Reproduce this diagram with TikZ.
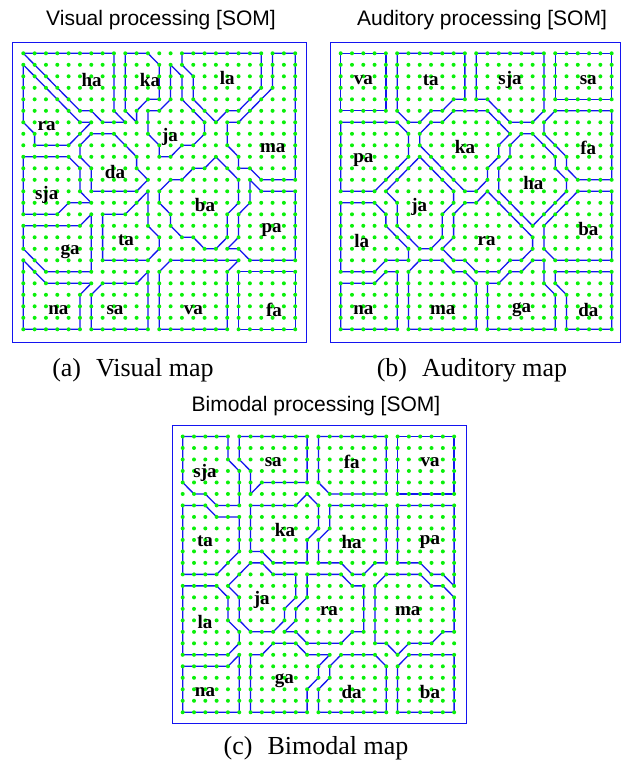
\documentclass[tikz,border=0pt]{standalone}
\usepackage{fontspec}
\setmainfont{Liberation Serif}
\newfontfamily\arialf{Liberation Sans}
\definecolor{dotg}{RGB}{10,240,10}
\definecolor{lineb}{RGB}{20,20,240}
\begin{document}
\begin{tikzpicture}[x=1pt,y=-1pt,
  bl/.style={lineb,line width=1.3pt,line join=miter},
  frm/.style={lineb,line width=1pt},
  lab/.style={font=\fontsize{19}{19}\selectfont\bfseries,inner sep=0pt},
  ttl/.style={font=\arialf\fontsize{21}{21}\selectfont,inner sep=0pt,anchor=base},
  capt/.style={font=\fontsize{26}{26}\selectfont,inner sep=0pt,anchor=base}]
\useasboundingbox (0,0) rectangle (621,764);
\fill[white] (0,0) rectangle (621,764);
% frames
\draw[frm] (12.7,42.7) rectangle (306,342);
\draw[frm] (330,42.7) rectangle (620,342.3);
\draw[frm] (172,425) rectangle (466,723.3);
% titles and captions
\node[ttl] (ta) at (161,25) {Visual processing [SOM]};
\node[ttl] (tb) at (482,25) {Auditory processing [SOM]};
\node[ttl] (tc) at (316,411) {Bimodal processing [SOM]};
\node[capt] (ca) at (133,376) {(a)\hspace{15pt}Visual map};
\node[capt] (cb) at (472,376) {(b)\hspace{15pt}Auditory map};
\node[capt] (cc) at (316,754) {(c)\hspace{15pt}Bimodal map};
% ---------- map (a)
\begin{scope}[xshift=23.3pt,yshift=-53.3pt,x=11.33pt,y=-11.5pt]
\draw[bl] (0,0)--(8,0)--(8,5)--(9,6)--(7,6)--(6,5)--(5,5)--cycle;
\draw[bl] (9,0)--(11,0)--(12,1)--(12,4)--(11,4)--(10,5)--(10,6)--(9,5)--cycle;
\draw[bl] (14,0)--(21,0)--(21,3)--(19,5)--(18,5)--(17,6)--(15,4)--(15,2)--(14,1)--cycle;
\draw[bl] (22,0)--(24,0)--(24,11)--(21,11)--(20,10)--(19,10)--(19,9)--(18,8)--(18,6)--(19,6)--(22,3)--cycle;
\draw[bl] (0,1)--(5,6)--(6,6)--(4,8)--(1,8)--(1,7)--(0,6)--cycle;
\draw[bl] (13,1)--(14,2)--(14,4)--(16,6)--(16,7)--(15,8)--(14,8)--(13,9)--(12,9)--(12,8)--(11,7)--(11,5)--(12,5)--(13,4)--cycle;
\draw[bl] (6,7)--(8,7)--(10,9)--(10,10)--(11,11)--(10,12)--(6,12)--(6,10)--(5,9)--(5,8)--cycle;
\draw[bl] (0,9)--(4,9)--(5,10)--(5,12)--(6,13)--(4,13)--(3,14)--(0,14)--cycle;
\draw[bl] (17,9)--(19,11)--(19,13)--(18,14)--(18,16)--(17,17)--(16,17)--(15,16)--(14,16)--(13,15)--(13,14)--(12,13)--(12,12)--(13,11)--(14,11)--(15,10)--(16,10)--cycle;
\draw[bl] (20,11)--(21,12)--(24,12)--(24,18)--(20,18)--(19,17)--(18,17)--(19,16)--(19,14)--(20,13)--cycle;
\draw[bl] (7,14)--(9,14)--(11,12)--(11,15)--(12,16)--(12,17)--(11,18)--(7,18)--cycle;
\draw[bl] (0,15)--(5,15)--(6,14)--(6,19)--(2,19)--(0,17)--cycle;
\draw[bl] (0,18)--(2,20)--(6,20)--(5,21)--(5,24)--(0,24)--cycle;
\draw[bl] (6,21)--(7,20)--(10,20)--(11,19)--(11,24)--(6,24)--cycle;
\draw[bl] (13,18)--(19,18)--(18,19)--(18,24)--(12,24)--(12,19)--cycle;
\draw[bl] (19,19)--(24,19)--(24,24)--(19,24)--cycle;
\foreach \i in {0,...,24}{\foreach \j in {0,...,24}{\fill[dotg] (\i,\j) circle (2pt);}}
\end{scope}
% ---------- map (b)
\begin{scope}[xshift=340.7pt,yshift=-53.3pt,x=11.29pt,y=-11.5pt]
\draw[bl] (0,0)--(4,0)--(4,5)--(0,5)--cycle;
\draw[bl] (5,0)--(11,0)--(11,4)--(10,4)--(9,5)--(8,5)--(7,6)--(6,6)--(5,5)--cycle;
\draw[bl] (12,0)--(18,0)--(18,5)--(17,6)--(15,6)--(13,4)--(12,4)--cycle;
\draw[bl] (19,0)--(24,0)--(24,4)--(19,4)--cycle;
\draw[bl] (0,6)--(5,6)--(6,7)--(6,9)--(3,12)--(0,12)--cycle;
\draw[bl] (7,7)--(8,6)--(9,6)--(10,5)--(13,5)--(15,7)--(14,8)--(14,9)--(13,10)--(13,11)--(12,12)--(11,12)--(10,11)--(7,8)--cycle;
\draw[bl] (19,5)--(24,5)--(24,11)--(21,11)--(20,10)--(20,9)--(18,7)--(18,6)--cycle;
\draw[bl] (16,7)--(17,7)--(19,9)--(19,10)--(20,11)--(20,12)--(17,15)--(14,12)--(14,10)--(15,9)--(15,8)--cycle;
\draw[bl] (7,9)--(10,12)--(10,13)--(9,14)--(9,16)--(8,17)--(7,17)--(5,15)--(5,13)--(4,12)--cycle;
\draw[bl] (0,13)--(3,13)--(4,14)--(4,15)--(6,17)--(6,18)--(4,18)--(3,19)--(0,19)--cycle;
\draw[bl] (6,19)--(7,18)--(9,18)--(10,19)--(11,19)--(12,20)--(12,24)--(6,24)--cycle;
\draw[bl] (0,20)--(3,20)--(4,19)--(5,19)--(5,24)--(0,24)--cycle;
\draw[bl] (11,13)--(12,13)--(13,12)--(17,16)--(17,17)--(16,18)--(15,18)--(14,19)--(12,19)--(11,18)--(10,18)--(9,17)--(10,16)--(10,14)--cycle;
\draw[bl] (13,20)--(14,20)--(15,19)--(16,19)--(17,18)--(18,18)--(18,20)--(19,21)--(19,24)--(13,24)--cycle;
\draw[bl] (21,12)--(24,12)--(24,18)--(19,18)--(18,17)--(18,15)--cycle;
\draw[bl] (19,19)--(24,19)--(24,24)--(20,24)--(20,21)--(19,20)--cycle;
\foreach \i in {0,...,24}{\foreach \j in {0,...,24}{\fill[dotg] (\i,\j) circle (2pt);}}
\end{scope}
% ---------- map (c)
\begin{scope}[xshift=182.7pt,yshift=-436.5pt,x=11.31pt,y=-11.49pt]
\draw[bl] (0,0)--(4,0)--(4,2)--(5,3)--(5,6)--(3,6)--(2,5)--(1,5)--(0,4)--cycle;
\draw[bl] (5,0)--(11,0)--(11,4)--(7,4)--(6,5)--(6,3)--(5,2)--cycle;
\draw[bl] (12,0)--(18,0)--(18,5)--(13,5)--(12,4)--cycle;
\draw[bl] (19,0)--(24,0)--(24,5)--(19,5)--cycle;
\draw[bl] (0,6)--(2,6)--(3,7)--(5,7)--(5,10)--(3,12)--(0,12)--cycle;
\draw[bl] (6,6)--(10,6)--(11,5)--(12,6)--(12,8)--(11,9)--(11,11)--(8,11)--(7,10)--(6,10)--cycle;
\draw[bl] (13,6)--(18,6)--(18,11)--(17,11)--(16,12)--(15,12)--(14,11)--(12,11)--(12,9)--(13,8)--cycle;
\draw[bl] (19,6)--(24,6)--(24,13)--(23,12)--(22,12)--(21,11)--(19,11)--cycle;
\draw[bl] (6,11)--(7,11)--(8,12)--(10,12)--(10,14)--(9,15)--(9,16)--(8,17)--(6,17)--(5,16)--(5,14)--(4,13)--cycle;
\draw[bl] (0,13)--(3,13)--(4,14)--(4,16)--(5,17)--(5,18)--(4,19)--(0,19)--cycle;
\draw[bl] (11,12)--(14,12)--(15,13)--(16,13)--(16,17)--(15,17)--(14,18)--(11,18)--(10,17)--(9,17)--(10,16)--(10,15)--(11,14)--cycle;
\draw[bl] (17,13)--(18,12)--(21,12)--(22,13)--(23,13)--(24,14)--(24,17)--(23,17)--(22,18)--(20,18)--(19,19)--(18,18)--(17,18)--cycle;
\draw[bl] (0,20)--(4,20)--(5,19)--(5,24)--(0,24)--cycle;
\draw[bl] (6,19)--(7,19)--(8,18)--(10,18)--(11,19)--(13,19)--(12,20)--(12,21)--(11,22)--(11,24)--(6,24)--cycle;
\draw[bl] (14,19)--(17,19)--(18,20)--(18,24)--(12,24)--(12,22)--(13,21)--(13,20)--cycle;
\draw[bl] (19,20)--(20,19)--(24,19)--(24,24)--(19,24)--cycle;
\foreach \i in {0,...,24}{\foreach \j in {0,...,24}{\fill[dotg] (\i,\j) circle (2pt);}}
\end{scope}
% ---------- labels (a)
\node[lab] (a-ha) at (91.7,80) {ha};
\node[lab] (a-ka) at (150,80) {ka};
\node[lab] (a-la) at (227.3,78.3) {la};
\node[lab] (a-ra) at (46.7,126) {ra};
\node[lab] (a-ja) at (170,137) {ja};
\node[lab] (a-ma) at (272.7,148.3) {ma};
\node[lab] (a-da) at (115,171.7) {da};
\node[lab] (a-sja) at (46.7,195) {sja};
\node[lab] (a-ba) at (205,205) {ba};
\node[lab] (a-pa) at (271.7,230) {pa};
\node[lab] (a-ta) at (126,240) {ta};
\node[lab] (a-ga) at (70,251.7) {ga};
\node[lab] (a-na) at (58.3,310) {na};
\node[lab] (a-sa) at (115,310) {sa};
\node[lab] (a-va) at (193.3,310) {va};
\node[lab] (a-fa) at (274,310) {fa};
% ---------- labels (b)
\node[lab] (b-va) at (363.3,80) {va};
\node[lab] (b-ta) at (430.7,80) {ta};
\node[lab] (b-sja) at (510,80) {sja};
\node[lab] (b-sa) at (588.3,80) {sa};
\node[lab] (b-pa) at (363.3,160) {pa};
\node[lab] (b-ka) at (465,146.7) {ka};
\node[lab] (b-fa) at (588.3,148.3) {fa};
\node[lab] (b-ha) at (533.3,183.3) {ha};
\node[lab] (b-ja) at (419.3,206.7) {ja};
\node[lab] (b-la) at (361.7,240.7) {la};
\node[lab] (b-ra) at (486.7,240.7) {ra};
\node[lab] (b-ba) at (588.3,229.3) {ba};
\node[lab] (b-na) at (363.3,310) {na};
\node[lab] (b-ma) at (442.7,310) {ma};
\node[lab] (b-ga) at (521.7,310) {ga};
\node[lab] (b-da) at (588.3,310) {da};
% ---------- labels (c)
\node[lab] (c-sja) at (205,473.3) {sja};
\node[lab] (c-sa) at (273.3,461.7) {sa};
\node[lab] (c-fa) at (351.7,461.7) {fa};
\node[lab] (c-va) at (430,461.7) {va};
\node[lab] (c-ta) at (205,541.7) {ta};
\node[lab] (c-ka) at (285,530) {ka};
\node[lab] (c-ha) at (351.7,541.7) {ha};
\node[lab] (c-pa) at (430,541.7) {pa};
\node[lab] (c-ja) at (261.7,600) {ja};
\node[lab] (c-la) at (205,621.7) {la};
\node[lab] (c-ra) at (329,611) {ra};
\node[lab] (c-ma) at (407.7,611) {ma};
\node[lab] (c-na) at (205,691.7) {na};
\node[lab] (c-ga) at (284.3,681) {ga};
\node[lab] (c-da) at (351.7,691.7) {da};
\node[lab] (c-ba) at (430,691.7) {ba};
\end{tikzpicture}
\end{document}
